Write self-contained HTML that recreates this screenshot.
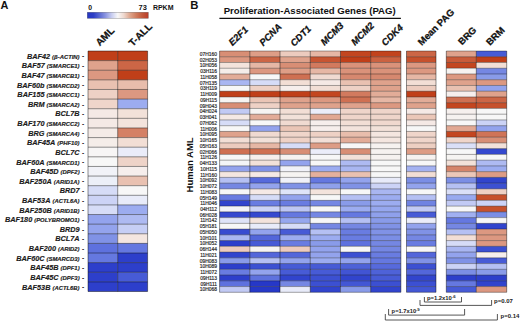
<!DOCTYPE html>
<html><head><meta charset="utf-8"><style>
html,body{margin:0;padding:0;background:#fff;}
body{width:520px;height:321px;overflow:hidden;}
svg{display:block;}
text{font-family:"Liberation Sans",sans-serif;}
</style></head><body>
<svg width="520" height="321" viewBox="0 0 520 321">
<rect x="0" y="0" width="520" height="321" fill="#fff"/>
<defs><linearGradient id="cb" x1="0" x2="1" y1="0" y2="0"><stop offset="0" stop-color="#2638c3"/><stop offset="0.1" stop-color="#2d3ec6"/><stop offset="0.2" stop-color="#5a69d2"/><stop offset="0.3" stop-color="#8c96e1"/><stop offset="0.4" stop-color="#c8cdf0"/><stop offset="0.5" stop-color="#f8f8f8"/><stop offset="0.6" stop-color="#eed7cd"/><stop offset="0.7" stop-color="#dea58c"/><stop offset="0.8" stop-color="#d07d5f"/><stop offset="0.9" stop-color="#c35a3c"/><stop offset="1" stop-color="#b93c28"/></linearGradient></defs>
<text x="0.55" y="8.75" font-size="10.9" font-weight="bold" fill="#111">A</text>
<rect x="87.3" y="12.3" width="61" height="6" fill="url(#cb)" stroke="rgba(0,0,0,0.35)" stroke-width="0.6"/>
<text x="88.3" y="9.7" font-size="6.8" font-weight="bold" fill="#111">0</text>
<text x="138.6" y="9.7" font-size="6.9" font-weight="bold" fill="#111" textLength="8.3" lengthAdjust="spacingAndGlyphs">73</text>
<text x="152.9" y="9.7" font-size="6.9" font-weight="bold" fill="#111" textLength="20.6" lengthAdjust="spacingAndGlyphs">RPKM</text>
<rect x="88.00" y="51.00" width="29.70" height="9.62" fill="#c03f19"/>
<rect x="117.70" y="51.00" width="29.90" height="9.62" fill="#c03f19"/>
<rect x="88.00" y="60.62" width="29.70" height="9.62" fill="#dfa28c"/>
<rect x="117.70" y="60.62" width="29.90" height="9.62" fill="#cc6646"/>
<rect x="88.00" y="70.24" width="29.70" height="9.62" fill="#dc9881"/>
<rect x="117.70" y="70.24" width="29.90" height="9.62" fill="#c03f19"/>
<rect x="88.00" y="79.86" width="29.70" height="9.62" fill="#e9c1b1"/>
<rect x="117.70" y="79.86" width="29.90" height="9.62" fill="#e8bdac"/>
<rect x="88.00" y="89.48" width="29.70" height="9.62" fill="#eed1c5"/>
<rect x="117.70" y="89.48" width="29.90" height="9.62" fill="#dc9881"/>
<rect x="88.00" y="99.10" width="29.70" height="9.62" fill="#efd5ca"/>
<rect x="117.70" y="99.10" width="29.90" height="9.62" fill="#9cacf0"/>
<rect x="88.00" y="108.72" width="29.70" height="9.62" fill="#f5e9e5"/>
<rect x="117.70" y="108.72" width="29.90" height="9.62" fill="#f2e1d9"/>
<rect x="88.00" y="118.34" width="29.70" height="9.62" fill="#f5e9e5"/>
<rect x="117.70" y="118.34" width="29.90" height="9.62" fill="#f3e3dc"/>
<rect x="88.00" y="127.96" width="29.70" height="9.62" fill="#f5ebe7"/>
<rect x="117.70" y="127.96" width="29.90" height="9.62" fill="#d48065"/>
<rect x="88.00" y="137.58" width="29.70" height="9.62" fill="#f5ede9"/>
<rect x="117.70" y="137.58" width="29.90" height="9.62" fill="#f2ded5"/>
<rect x="88.00" y="147.20" width="29.70" height="9.62" fill="#f7f5f5"/>
<rect x="117.70" y="147.20" width="29.90" height="9.62" fill="#eaecf9"/>
<rect x="88.00" y="156.82" width="29.70" height="9.62" fill="#f7f7f7"/>
<rect x="117.70" y="156.82" width="29.90" height="9.62" fill="#eed3c8"/>
<rect x="88.00" y="166.44" width="29.70" height="9.62" fill="#f1f2f8"/>
<rect x="117.70" y="166.44" width="29.90" height="9.62" fill="#f6eeec"/>
<rect x="88.00" y="176.06" width="29.70" height="9.62" fill="#eceff8"/>
<rect x="117.70" y="176.06" width="29.90" height="9.62" fill="#e9c1b1"/>
<rect x="88.00" y="185.68" width="29.70" height="9.62" fill="#d6dcf7"/>
<rect x="117.70" y="185.68" width="29.90" height="9.62" fill="#f7f7f7"/>
<rect x="88.00" y="195.30" width="29.70" height="9.62" fill="#ccd3f6"/>
<rect x="117.70" y="195.30" width="29.90" height="9.62" fill="#e8ebf9"/>
<rect x="88.00" y="204.92" width="29.70" height="9.62" fill="#d6dcf7"/>
<rect x="117.70" y="204.92" width="29.90" height="9.62" fill="#9cacf0"/>
<rect x="88.00" y="214.54" width="29.70" height="9.62" fill="#93a3ed"/>
<rect x="117.70" y="214.54" width="29.90" height="9.62" fill="#aebaf2"/>
<rect x="88.00" y="224.16" width="29.70" height="9.62" fill="#93a3ed"/>
<rect x="117.70" y="224.16" width="29.90" height="9.62" fill="#c6cef5"/>
<rect x="88.00" y="233.78" width="29.70" height="9.62" fill="#8092e6"/>
<rect x="117.70" y="233.78" width="29.90" height="9.62" fill="#f4e6e0"/>
<rect x="88.00" y="243.40" width="29.70" height="9.62" fill="#5e71de"/>
<rect x="117.70" y="243.40" width="29.90" height="9.62" fill="#6578e0"/>
<rect x="88.00" y="253.02" width="29.70" height="9.62" fill="#6578e0"/>
<rect x="117.70" y="253.02" width="29.90" height="9.62" fill="#2d3fcb"/>
<rect x="88.00" y="262.64" width="29.70" height="9.62" fill="#2d3fcb"/>
<rect x="117.70" y="262.64" width="29.90" height="9.62" fill="#2d3fcb"/>
<rect x="88.00" y="272.26" width="29.70" height="9.62" fill="#2d3fcb"/>
<rect x="117.70" y="272.26" width="29.90" height="9.62" fill="#475bd6"/>
<rect x="88.00" y="281.88" width="29.70" height="9.62" fill="#2d3fcb"/>
<rect x="117.70" y="281.88" width="29.90" height="9.62" fill="#2d3fcb"/>
<line x1="88.00" x2="147.60" y1="51.00" y2="51.00" stroke="rgba(0,0,0,0.55)" stroke-width="0.80"/>
<line x1="88.00" x2="147.60" y1="60.62" y2="60.62" stroke="rgba(0,0,0,0.55)" stroke-width="0.80"/>
<line x1="88.00" x2="147.60" y1="70.24" y2="70.24" stroke="rgba(0,0,0,0.55)" stroke-width="0.80"/>
<line x1="88.00" x2="147.60" y1="79.86" y2="79.86" stroke="rgba(0,0,0,0.55)" stroke-width="0.80"/>
<line x1="88.00" x2="147.60" y1="89.48" y2="89.48" stroke="rgba(0,0,0,0.55)" stroke-width="0.80"/>
<line x1="88.00" x2="147.60" y1="99.10" y2="99.10" stroke="rgba(0,0,0,0.55)" stroke-width="0.80"/>
<line x1="88.00" x2="147.60" y1="108.72" y2="108.72" stroke="rgba(0,0,0,0.55)" stroke-width="0.80"/>
<line x1="88.00" x2="147.60" y1="118.34" y2="118.34" stroke="rgba(0,0,0,0.55)" stroke-width="0.80"/>
<line x1="88.00" x2="147.60" y1="127.96" y2="127.96" stroke="rgba(0,0,0,0.55)" stroke-width="0.80"/>
<line x1="88.00" x2="147.60" y1="137.58" y2="137.58" stroke="rgba(0,0,0,0.55)" stroke-width="0.80"/>
<line x1="88.00" x2="147.60" y1="147.20" y2="147.20" stroke="rgba(0,0,0,0.55)" stroke-width="0.80"/>
<line x1="88.00" x2="147.60" y1="156.82" y2="156.82" stroke="rgba(0,0,0,0.55)" stroke-width="0.80"/>
<line x1="88.00" x2="147.60" y1="166.44" y2="166.44" stroke="rgba(0,0,0,0.55)" stroke-width="0.80"/>
<line x1="88.00" x2="147.60" y1="176.06" y2="176.06" stroke="rgba(0,0,0,0.55)" stroke-width="0.80"/>
<line x1="88.00" x2="147.60" y1="185.68" y2="185.68" stroke="rgba(0,0,0,0.55)" stroke-width="0.80"/>
<line x1="88.00" x2="147.60" y1="195.30" y2="195.30" stroke="rgba(0,0,0,0.55)" stroke-width="0.80"/>
<line x1="88.00" x2="147.60" y1="204.92" y2="204.92" stroke="rgba(0,0,0,0.55)" stroke-width="0.80"/>
<line x1="88.00" x2="147.60" y1="214.54" y2="214.54" stroke="rgba(0,0,0,0.55)" stroke-width="0.80"/>
<line x1="88.00" x2="147.60" y1="224.16" y2="224.16" stroke="rgba(0,0,0,0.55)" stroke-width="0.80"/>
<line x1="88.00" x2="147.60" y1="233.78" y2="233.78" stroke="rgba(0,0,0,0.55)" stroke-width="0.80"/>
<line x1="88.00" x2="147.60" y1="243.40" y2="243.40" stroke="rgba(0,0,0,0.55)" stroke-width="0.80"/>
<line x1="88.00" x2="147.60" y1="253.02" y2="253.02" stroke="rgba(0,0,0,0.55)" stroke-width="0.80"/>
<line x1="88.00" x2="147.60" y1="262.64" y2="262.64" stroke="rgba(0,0,0,0.55)" stroke-width="0.80"/>
<line x1="88.00" x2="147.60" y1="272.26" y2="272.26" stroke="rgba(0,0,0,0.55)" stroke-width="0.80"/>
<line x1="88.00" x2="147.60" y1="281.88" y2="281.88" stroke="rgba(0,0,0,0.55)" stroke-width="0.80"/>
<line x1="88.00" x2="147.60" y1="291.50" y2="291.50" stroke="rgba(0,0,0,0.55)" stroke-width="0.80"/>
<line x1="88.00" x2="88.00" y1="51.00" y2="291.50" stroke="rgba(0,0,0,0.55)" stroke-width="0.80"/>
<line x1="117.70" x2="117.70" y1="51.00" y2="291.50" stroke="rgba(0,0,0,0.55)" stroke-width="0.80"/>
<line x1="147.60" x2="147.60" y1="51.00" y2="291.50" stroke="rgba(0,0,0,0.55)" stroke-width="0.80"/>
<text x="79.6" y="58.71" text-anchor="end" font-weight="bold" font-style="italic" fill="#1a1a1a" stroke="#1a1a1a" stroke-width="0.15"><tspan font-size="7.3">BAF42</tspan><tspan font-size="5.9" dx="2.0">(β-ACTIN)</tspan></text>
<text x="82.1" y="58.41" font-weight="bold" font-size="6.5" fill="#1a1a1a">-</text>
<text x="79.6" y="68.33" text-anchor="end" font-weight="bold" font-style="italic" fill="#1a1a1a" stroke="#1a1a1a" stroke-width="0.15"><tspan font-size="7.3">BAF57</tspan><tspan font-size="5.9" dx="2.0">(SMARCE1)</tspan></text>
<text x="82.1" y="68.03" font-weight="bold" font-size="6.5" fill="#1a1a1a">-</text>
<text x="79.6" y="77.95" text-anchor="end" font-weight="bold" font-style="italic" fill="#1a1a1a" stroke="#1a1a1a" stroke-width="0.15"><tspan font-size="7.3">BAF47</tspan><tspan font-size="5.9" dx="2.0">(SMARCB1)</tspan></text>
<text x="82.1" y="77.65" font-weight="bold" font-size="6.5" fill="#1a1a1a">-</text>
<text x="79.6" y="87.57" text-anchor="end" font-weight="bold" font-style="italic" fill="#1a1a1a" stroke="#1a1a1a" stroke-width="0.15"><tspan font-size="7.3">BAF60b</tspan><tspan font-size="5.9" dx="2.0">(SMARCD2)</tspan></text>
<text x="82.1" y="87.27" font-weight="bold" font-size="6.5" fill="#1a1a1a">-</text>
<text x="79.6" y="97.19" text-anchor="end" font-weight="bold" font-style="italic" fill="#1a1a1a" stroke="#1a1a1a" stroke-width="0.15"><tspan font-size="7.3">BAF155</tspan><tspan font-size="5.9" dx="2.0">(SMARCC1)</tspan></text>
<text x="82.1" y="96.89" font-weight="bold" font-size="6.5" fill="#1a1a1a">-</text>
<text x="79.6" y="106.81" text-anchor="end" font-weight="bold" font-style="italic" fill="#1a1a1a" stroke="#1a1a1a" stroke-width="0.15"><tspan font-size="7.3">BRM</tspan><tspan font-size="5.9" dx="2.0">(SMARCA2)</tspan></text>
<text x="82.1" y="106.51" font-weight="bold" font-size="6.5" fill="#1a1a1a">-</text>
<text x="79.6" y="116.43" text-anchor="end" font-weight="bold" font-style="italic" font-size="7.3" fill="#1a1a1a" stroke="#1a1a1a" stroke-width="0.15">BCL7B</text>
<text x="82.1" y="116.13" font-weight="bold" font-size="6.5" fill="#1a1a1a">-</text>
<text x="79.6" y="126.05" text-anchor="end" font-weight="bold" font-style="italic" fill="#1a1a1a" stroke="#1a1a1a" stroke-width="0.15"><tspan font-size="7.3">BAF170</tspan><tspan font-size="5.9" dx="2.0">(SMARCC2)</tspan></text>
<text x="82.1" y="125.75" font-weight="bold" font-size="6.5" fill="#1a1a1a">-</text>
<text x="79.6" y="135.67" text-anchor="end" font-weight="bold" font-style="italic" fill="#1a1a1a" stroke="#1a1a1a" stroke-width="0.15"><tspan font-size="7.3">BRG</tspan><tspan font-size="5.9" dx="2.0">(SMARCA4)</tspan></text>
<text x="82.1" y="135.37" font-weight="bold" font-size="6.5" fill="#1a1a1a">-</text>
<text x="79.6" y="145.29" text-anchor="end" font-weight="bold" font-style="italic" fill="#1a1a1a" stroke="#1a1a1a" stroke-width="0.15"><tspan font-size="7.3">BAF45A</tspan><tspan font-size="5.9" dx="2.0">(PHF10)</tspan></text>
<text x="82.1" y="144.99" font-weight="bold" font-size="6.5" fill="#1a1a1a">-</text>
<text x="79.6" y="154.91" text-anchor="end" font-weight="bold" font-style="italic" font-size="7.3" fill="#1a1a1a" stroke="#1a1a1a" stroke-width="0.15">BCL7C</text>
<text x="82.1" y="154.61" font-weight="bold" font-size="6.5" fill="#1a1a1a">-</text>
<text x="79.6" y="164.53" text-anchor="end" font-weight="bold" font-style="italic" fill="#1a1a1a" stroke="#1a1a1a" stroke-width="0.15"><tspan font-size="7.3">BAF60A</tspan><tspan font-size="5.9" dx="2.0">(SMARCD1)</tspan></text>
<text x="82.1" y="164.23" font-weight="bold" font-size="6.5" fill="#1a1a1a">-</text>
<text x="79.6" y="174.15" text-anchor="end" font-weight="bold" font-style="italic" fill="#1a1a1a" stroke="#1a1a1a" stroke-width="0.15"><tspan font-size="7.3">BAF45D</tspan><tspan font-size="5.9" dx="2.0">(DPF2)</tspan></text>
<text x="82.1" y="173.85" font-weight="bold" font-size="6.5" fill="#1a1a1a">-</text>
<text x="79.6" y="183.77" text-anchor="end" font-weight="bold" font-style="italic" fill="#1a1a1a" stroke="#1a1a1a" stroke-width="0.15"><tspan font-size="7.3">BAF250A</tspan><tspan font-size="5.9" dx="2.0">(ARID1A)</tspan></text>
<text x="82.1" y="183.47" font-weight="bold" font-size="6.5" fill="#1a1a1a">-</text>
<text x="79.6" y="193.39" text-anchor="end" font-weight="bold" font-style="italic" font-size="7.3" fill="#1a1a1a" stroke="#1a1a1a" stroke-width="0.15">BRD7</text>
<text x="82.1" y="193.09" font-weight="bold" font-size="6.5" fill="#1a1a1a">-</text>
<text x="79.6" y="203.01" text-anchor="end" font-weight="bold" font-style="italic" fill="#1a1a1a" stroke="#1a1a1a" stroke-width="0.15"><tspan font-size="7.3">BAF53A</tspan><tspan font-size="5.9" dx="2.0">(ACTL6A)</tspan></text>
<text x="82.1" y="202.71" font-weight="bold" font-size="6.5" fill="#1a1a1a">-</text>
<text x="79.6" y="212.63" text-anchor="end" font-weight="bold" font-style="italic" fill="#1a1a1a" stroke="#1a1a1a" stroke-width="0.15"><tspan font-size="7.3">BAF250B</tspan><tspan font-size="5.9" dx="2.0">(ARID1B)</tspan></text>
<text x="82.1" y="212.33" font-weight="bold" font-size="6.5" fill="#1a1a1a">-</text>
<text x="79.6" y="222.25" text-anchor="end" font-weight="bold" font-style="italic" fill="#1a1a1a" stroke="#1a1a1a" stroke-width="0.15"><tspan font-size="7.3">BAF180</tspan><tspan font-size="5.9" dx="2.0">(POLYBROMO1)</tspan></text>
<text x="82.1" y="221.95" font-weight="bold" font-size="6.5" fill="#1a1a1a">-</text>
<text x="79.6" y="231.87" text-anchor="end" font-weight="bold" font-style="italic" font-size="7.3" fill="#1a1a1a" stroke="#1a1a1a" stroke-width="0.15">BRD9</text>
<text x="82.1" y="231.57" font-weight="bold" font-size="6.5" fill="#1a1a1a">-</text>
<text x="79.6" y="241.49" text-anchor="end" font-weight="bold" font-style="italic" font-size="7.3" fill="#1a1a1a" stroke="#1a1a1a" stroke-width="0.15">BCL7A</text>
<text x="82.1" y="241.19" font-weight="bold" font-size="6.5" fill="#1a1a1a">-</text>
<text x="79.6" y="251.11" text-anchor="end" font-weight="bold" font-style="italic" fill="#1a1a1a" stroke="#1a1a1a" stroke-width="0.15"><tspan font-size="7.3">BAF200</tspan><tspan font-size="5.9" dx="2.0">(ARID2)</tspan></text>
<text x="82.1" y="250.81" font-weight="bold" font-size="6.5" fill="#1a1a1a">-</text>
<text x="79.6" y="260.73" text-anchor="end" font-weight="bold" font-style="italic" fill="#1a1a1a" stroke="#1a1a1a" stroke-width="0.15"><tspan font-size="7.3">BAF60C</tspan><tspan font-size="5.9" dx="2.0">(SMARCD3)</tspan></text>
<text x="82.1" y="260.43" font-weight="bold" font-size="6.5" fill="#1a1a1a">-</text>
<text x="79.6" y="270.35" text-anchor="end" font-weight="bold" font-style="italic" fill="#1a1a1a" stroke="#1a1a1a" stroke-width="0.15"><tspan font-size="7.3">BAF45B</tspan><tspan font-size="5.9" dx="2.0">(DPF1)</tspan></text>
<text x="82.1" y="270.05" font-weight="bold" font-size="6.5" fill="#1a1a1a">-</text>
<text x="79.6" y="279.97" text-anchor="end" font-weight="bold" font-style="italic" fill="#1a1a1a" stroke="#1a1a1a" stroke-width="0.15"><tspan font-size="7.3">BAF45C</tspan><tspan font-size="5.9" dx="2.0">(DPF3)</tspan></text>
<text x="82.1" y="279.67" font-weight="bold" font-size="6.5" fill="#1a1a1a">-</text>
<text x="79.6" y="289.59" text-anchor="end" font-weight="bold" font-style="italic" fill="#1a1a1a" stroke="#1a1a1a" stroke-width="0.15"><tspan font-size="7.3">BAF53B</tspan><tspan font-size="5.9" dx="2.0">(ACTL6B)</tspan></text>
<text x="82.1" y="289.29" font-weight="bold" font-size="6.5" fill="#1a1a1a">-</text>
<text x="99.75" y="46.55" font-size="10" font-weight="bold" fill="#111" stroke="#111" stroke-width="0.25" transform="rotate(-45 99.75 46.55)">AML</text>
<text x="132.70" y="47.10" font-size="10" font-weight="bold" fill="#111" stroke="#111" stroke-width="0.25" transform="rotate(-45 132.70 47.10)">T-ALL</text>
<text x="190.2" y="8.85" font-size="10.9" font-weight="bold" fill="#111" textLength="8.2" lengthAdjust="spacingAndGlyphs">B</text>
<text x="309.7" y="13.6" font-size="9.6" font-weight="bold" fill="#111" text-anchor="middle">Proliferation-Associated Genes (PAG)</text>
<line x1="219.4" x2="400.9" y1="18.4" y2="18.4" stroke="#111" stroke-width="1.25"/>
<text x="232.60" y="46.35" font-size="9.5" font-weight="bold" font-style="italic" fill="#111" stroke="#111" stroke-width="0.25" transform="rotate(-45 232.60 46.35)">E2F1</text>
<text x="263.25" y="46.40" font-size="9.5" font-weight="bold" font-style="italic" fill="#111" stroke="#111" stroke-width="0.25" transform="rotate(-45 263.25 46.40)">PCNA</text>
<text x="294.20" y="47.00" font-size="9.5" font-weight="bold" font-style="italic" fill="#111" stroke="#111" stroke-width="0.25" transform="rotate(-45 294.20 47.00)">CDT1</text>
<text x="324.45" y="45.95" font-size="9.5" font-weight="bold" font-style="italic" fill="#111" stroke="#111" stroke-width="0.25" transform="rotate(-45 324.45 45.95)">MCM3</text>
<text x="355.00" y="45.95" font-size="9.5" font-weight="bold" font-style="italic" fill="#111" stroke="#111" stroke-width="0.25" transform="rotate(-45 355.00 45.95)">MCM2</text>
<text x="385.35" y="46.45" font-size="9.5" font-weight="bold" font-style="italic" fill="#111" stroke="#111" stroke-width="0.25" transform="rotate(-45 385.35 46.45)">CDK4</text>
<text x="421.80" y="45.95" font-size="9.5" font-weight="bold" fill="#111" stroke="#111" stroke-width="0.25" transform="rotate(-45 421.80 45.95)">Mean PAG</text>
<text x="462.10" y="45.60" font-size="9.5" font-weight="bold" fill="#111" stroke="#111" stroke-width="0.25" transform="rotate(-45 462.10 45.60)">BRG</text>
<text x="490.00" y="46.10" font-size="9.5" font-weight="bold" fill="#111" stroke="#111" stroke-width="0.25" transform="rotate(-45 490.00 46.10)">BRM</text>
<rect x="219.60" y="51.00" width="30.22" height="5.75" fill="#d88e75"/>
<rect x="249.82" y="51.00" width="30.22" height="5.75" fill="#de9e87"/>
<rect x="280.03" y="51.00" width="30.22" height="5.75" fill="#eccbbe"/>
<rect x="310.25" y="51.00" width="30.22" height="5.75" fill="#e6b7a5"/>
<rect x="340.47" y="51.00" width="30.22" height="5.75" fill="#c34620"/>
<rect x="370.68" y="51.00" width="30.22" height="5.75" fill="#c2431d"/>
<rect x="406.50" y="51.00" width="29.50" height="5.75" fill="#cc6646"/>
<rect x="446.30" y="51.00" width="30.00" height="5.75" fill="#dfa28c"/>
<rect x="476.30" y="51.00" width="30.40" height="5.75" fill="#475bd6"/>
<rect x="219.60" y="56.75" width="30.22" height="5.75" fill="#dc9881"/>
<rect x="249.82" y="56.75" width="30.22" height="5.75" fill="#cc6646"/>
<rect x="280.03" y="56.75" width="30.22" height="5.75" fill="#dfa28c"/>
<rect x="310.25" y="56.75" width="30.22" height="5.75" fill="#c75532"/>
<rect x="340.47" y="56.75" width="30.22" height="5.75" fill="#c03f19"/>
<rect x="370.68" y="56.75" width="30.22" height="5.75" fill="#cb6241"/>
<rect x="406.50" y="56.75" width="29.50" height="5.75" fill="#c6512d"/>
<rect x="446.30" y="56.75" width="30.00" height="5.75" fill="#c95b39"/>
<rect x="476.30" y="56.75" width="30.40" height="5.75" fill="#c03f19"/>
<rect x="219.60" y="62.49" width="30.22" height="5.75" fill="#f3e3dc"/>
<rect x="249.82" y="62.49" width="30.22" height="5.75" fill="#e6b7a5"/>
<rect x="280.03" y="62.49" width="30.22" height="5.75" fill="#d88e75"/>
<rect x="310.25" y="62.49" width="30.22" height="5.75" fill="#d27a5e"/>
<rect x="340.47" y="62.49" width="30.22" height="5.75" fill="#da927a"/>
<rect x="370.68" y="62.49" width="30.22" height="5.75" fill="#da927a"/>
<rect x="406.50" y="62.49" width="29.50" height="5.75" fill="#dc9881"/>
<rect x="446.30" y="62.49" width="30.00" height="5.75" fill="#c34620"/>
<rect x="476.30" y="62.49" width="30.40" height="5.75" fill="#f2ded5"/>
<rect x="219.60" y="68.24" width="30.22" height="5.75" fill="#f5ede9"/>
<rect x="249.82" y="68.24" width="30.22" height="5.75" fill="#dc9881"/>
<rect x="280.03" y="68.24" width="30.22" height="5.75" fill="#de9e87"/>
<rect x="310.25" y="68.24" width="30.22" height="5.75" fill="#e6b7a5"/>
<rect x="340.47" y="68.24" width="30.22" height="5.75" fill="#da927a"/>
<rect x="370.68" y="68.24" width="30.22" height="5.75" fill="#da927a"/>
<rect x="406.50" y="68.24" width="29.50" height="5.75" fill="#dc9881"/>
<rect x="446.30" y="68.24" width="30.00" height="5.75" fill="#f6f2f0"/>
<rect x="476.30" y="68.24" width="30.40" height="5.75" fill="#7587e3"/>
<rect x="219.60" y="73.98" width="30.22" height="5.75" fill="#e2ac98"/>
<rect x="249.82" y="73.98" width="30.22" height="5.75" fill="#f7f7f7"/>
<rect x="280.03" y="73.98" width="30.22" height="5.75" fill="#cf7052"/>
<rect x="310.25" y="73.98" width="30.22" height="5.75" fill="#f0dad1"/>
<rect x="340.47" y="73.98" width="30.22" height="5.75" fill="#d6886f"/>
<rect x="370.68" y="73.98" width="30.22" height="5.75" fill="#d6886f"/>
<rect x="406.50" y="73.98" width="29.50" height="5.75" fill="#e6b7a5"/>
<rect x="446.30" y="73.98" width="30.00" height="5.75" fill="#dc9881"/>
<rect x="476.30" y="73.98" width="30.40" height="5.75" fill="#899be9"/>
<rect x="219.60" y="79.73" width="30.22" height="5.75" fill="#a9b6f1"/>
<rect x="249.82" y="79.73" width="30.22" height="5.75" fill="#d6dcf7"/>
<rect x="280.03" y="79.73" width="30.22" height="5.75" fill="#f2ded5"/>
<rect x="310.25" y="79.73" width="30.22" height="5.75" fill="#f5e9e5"/>
<rect x="340.47" y="79.73" width="30.22" height="5.75" fill="#e9c1b1"/>
<rect x="370.68" y="79.73" width="30.22" height="5.75" fill="#dfa28c"/>
<rect x="406.50" y="79.73" width="29.50" height="5.75" fill="#f2ded5"/>
<rect x="446.30" y="79.73" width="30.00" height="5.75" fill="#dfa28c"/>
<rect x="476.30" y="79.73" width="30.40" height="5.75" fill="#dc9881"/>
<rect x="219.60" y="85.47" width="30.22" height="5.75" fill="#f7f7f7"/>
<rect x="249.82" y="85.47" width="30.22" height="5.75" fill="#eed1c5"/>
<rect x="280.03" y="85.47" width="30.22" height="5.75" fill="#f6eeec"/>
<rect x="310.25" y="85.47" width="30.22" height="5.75" fill="#f2ded5"/>
<rect x="340.47" y="85.47" width="30.22" height="5.75" fill="#eed1c5"/>
<rect x="370.68" y="85.47" width="30.22" height="5.75" fill="#dfa28c"/>
<rect x="406.50" y="85.47" width="29.50" height="5.75" fill="#eccbbe"/>
<rect x="446.30" y="85.47" width="30.00" height="5.75" fill="#e9c1b1"/>
<rect x="476.30" y="85.47" width="30.40" height="5.75" fill="#93a3ed"/>
<rect x="219.60" y="91.22" width="30.22" height="5.75" fill="#c03f19"/>
<rect x="249.82" y="91.22" width="30.22" height="5.75" fill="#c03f19"/>
<rect x="280.03" y="91.22" width="30.22" height="5.75" fill="#c03f19"/>
<rect x="310.25" y="91.22" width="30.22" height="5.75" fill="#c34620"/>
<rect x="340.47" y="91.22" width="30.22" height="5.75" fill="#d27a5e"/>
<rect x="370.68" y="91.22" width="30.22" height="5.75" fill="#e2ac98"/>
<rect x="406.50" y="91.22" width="29.50" height="5.75" fill="#c03f19"/>
<rect x="446.30" y="91.22" width="30.00" height="5.75" fill="#f6eeec"/>
<rect x="476.30" y="91.22" width="30.40" height="5.75" fill="#dfa28c"/>
<rect x="219.60" y="96.96" width="30.22" height="5.75" fill="#f6f4f2"/>
<rect x="249.82" y="96.96" width="30.22" height="5.75" fill="#eac5b6"/>
<rect x="280.03" y="96.96" width="30.22" height="5.75" fill="#dfa28c"/>
<rect x="310.25" y="96.96" width="30.22" height="5.75" fill="#dc9881"/>
<rect x="340.47" y="96.96" width="30.22" height="5.75" fill="#cf7052"/>
<rect x="370.68" y="96.96" width="30.22" height="5.75" fill="#e6b7a5"/>
<rect x="406.50" y="96.96" width="29.50" height="5.75" fill="#e2ac98"/>
<rect x="446.30" y="96.96" width="30.00" height="5.75" fill="#cf7052"/>
<rect x="476.30" y="96.96" width="30.40" height="5.75" fill="#cc6646"/>
<rect x="219.60" y="102.71" width="30.22" height="5.75" fill="#d88e75"/>
<rect x="249.82" y="102.71" width="30.22" height="5.75" fill="#eed1c5"/>
<rect x="280.03" y="102.71" width="30.22" height="5.75" fill="#dfa28c"/>
<rect x="310.25" y="102.71" width="30.22" height="5.75" fill="#dfa28c"/>
<rect x="340.47" y="102.71" width="30.22" height="5.75" fill="#dfa28c"/>
<rect x="370.68" y="102.71" width="30.22" height="5.75" fill="#dc9881"/>
<rect x="406.50" y="102.71" width="29.50" height="5.75" fill="#dfa28c"/>
<rect x="446.30" y="102.71" width="30.00" height="5.75" fill="#c34620"/>
<rect x="476.30" y="102.71" width="30.40" height="5.75" fill="#c6512d"/>
<rect x="219.60" y="108.45" width="30.22" height="5.75" fill="#c2caf4"/>
<rect x="249.82" y="108.45" width="30.22" height="5.75" fill="#f6f4f2"/>
<rect x="280.03" y="108.45" width="30.22" height="5.75" fill="#f2ded5"/>
<rect x="310.25" y="108.45" width="30.22" height="5.75" fill="#ebedf9"/>
<rect x="340.47" y="108.45" width="30.22" height="5.75" fill="#efd5ca"/>
<rect x="370.68" y="108.45" width="30.22" height="5.75" fill="#efd5ca"/>
<rect x="406.50" y="108.45" width="29.50" height="5.75" fill="#f5e9e5"/>
<rect x="446.30" y="108.45" width="30.00" height="5.75" fill="#f6f0ee"/>
<rect x="476.30" y="108.45" width="30.40" height="5.75" fill="#f7f7f7"/>
<rect x="219.60" y="114.20" width="30.22" height="5.75" fill="#f5e9e5"/>
<rect x="249.82" y="114.20" width="30.22" height="5.75" fill="#e2ac98"/>
<rect x="280.03" y="114.20" width="30.22" height="5.75" fill="#f2e1d9"/>
<rect x="310.25" y="114.20" width="30.22" height="5.75" fill="#e1a893"/>
<rect x="340.47" y="114.20" width="30.22" height="5.75" fill="#efd5ca"/>
<rect x="370.68" y="114.20" width="30.22" height="5.75" fill="#efd5ca"/>
<rect x="406.50" y="114.20" width="29.50" height="5.75" fill="#ebc7b8"/>
<rect x="446.30" y="114.20" width="30.00" height="5.75" fill="#f6f2f0"/>
<rect x="476.30" y="114.20" width="30.40" height="5.75" fill="#f7f7f7"/>
<rect x="219.60" y="119.94" width="30.22" height="5.75" fill="#d6dcf7"/>
<rect x="249.82" y="119.94" width="30.22" height="5.75" fill="#f7f7f7"/>
<rect x="280.03" y="119.94" width="30.22" height="5.75" fill="#f0dad1"/>
<rect x="310.25" y="119.94" width="30.22" height="5.75" fill="#f6eeec"/>
<rect x="340.47" y="119.94" width="30.22" height="5.75" fill="#f2ded5"/>
<rect x="370.68" y="119.94" width="30.22" height="5.75" fill="#f0d8ce"/>
<rect x="406.50" y="119.94" width="29.50" height="5.75" fill="#f5e9e5"/>
<rect x="446.30" y="119.94" width="30.00" height="5.75" fill="#f7f7f7"/>
<rect x="476.30" y="119.94" width="30.40" height="5.75" fill="#ccd3f6"/>
<rect x="219.60" y="125.69" width="30.22" height="5.75" fill="#f7f7f7"/>
<rect x="249.82" y="125.69" width="30.22" height="5.75" fill="#93a3ed"/>
<rect x="280.03" y="125.69" width="30.22" height="5.75" fill="#eac5b6"/>
<rect x="310.25" y="125.69" width="30.22" height="5.75" fill="#f6eeec"/>
<rect x="340.47" y="125.69" width="30.22" height="5.75" fill="#f3e3dc"/>
<rect x="370.68" y="125.69" width="30.22" height="5.75" fill="#f2e1d9"/>
<rect x="406.50" y="125.69" width="29.50" height="5.75" fill="#f7f7f7"/>
<rect x="446.30" y="125.69" width="30.00" height="5.75" fill="#e1a893"/>
<rect x="476.30" y="125.69" width="30.40" height="5.75" fill="#93a3ed"/>
<rect x="219.60" y="131.43" width="30.22" height="5.75" fill="#dfa28c"/>
<rect x="249.82" y="131.43" width="30.22" height="5.75" fill="#f0dad1"/>
<rect x="280.03" y="131.43" width="30.22" height="5.75" fill="#efd5ca"/>
<rect x="310.25" y="131.43" width="30.22" height="5.75" fill="#eed1c5"/>
<rect x="340.47" y="131.43" width="30.22" height="5.75" fill="#e8bdac"/>
<rect x="370.68" y="131.43" width="30.22" height="5.75" fill="#f4e6e0"/>
<rect x="406.50" y="131.43" width="29.50" height="5.75" fill="#efd5ca"/>
<rect x="446.30" y="131.43" width="30.00" height="5.75" fill="#c34620"/>
<rect x="476.30" y="131.43" width="30.40" height="5.75" fill="#d07457"/>
<rect x="219.60" y="137.18" width="30.22" height="5.75" fill="#f2ded5"/>
<rect x="249.82" y="137.18" width="30.22" height="5.75" fill="#f2e1d9"/>
<rect x="280.03" y="137.18" width="30.22" height="5.75" fill="#eed1c5"/>
<rect x="310.25" y="137.18" width="30.22" height="5.75" fill="#f2dfd7"/>
<rect x="340.47" y="137.18" width="30.22" height="5.75" fill="#e2ac98"/>
<rect x="370.68" y="137.18" width="30.22" height="5.75" fill="#f4e6e0"/>
<rect x="406.50" y="137.18" width="29.50" height="5.75" fill="#efd5ca"/>
<rect x="446.30" y="137.18" width="30.00" height="5.75" fill="#efd5ca"/>
<rect x="476.30" y="137.18" width="30.40" height="5.75" fill="#d88e75"/>
<rect x="219.60" y="142.92" width="30.22" height="5.75" fill="#eccbbe"/>
<rect x="249.82" y="142.92" width="30.22" height="5.75" fill="#e6b7a5"/>
<rect x="280.03" y="142.92" width="30.22" height="5.75" fill="#d6dcf7"/>
<rect x="310.25" y="142.92" width="30.22" height="5.75" fill="#dd9c85"/>
<rect x="340.47" y="142.92" width="30.22" height="5.75" fill="#f7f7f7"/>
<rect x="370.68" y="142.92" width="30.22" height="5.75" fill="#f6f2f0"/>
<rect x="406.50" y="142.92" width="29.50" height="5.75" fill="#edcfc2"/>
<rect x="446.30" y="142.92" width="30.00" height="5.75" fill="#dadff7"/>
<rect x="476.30" y="142.92" width="30.40" height="5.75" fill="#f2e1d9"/>
<rect x="219.60" y="148.67" width="30.22" height="5.75" fill="#cf7052"/>
<rect x="249.82" y="148.67" width="30.22" height="5.75" fill="#cf7052"/>
<rect x="280.03" y="148.67" width="30.22" height="5.75" fill="#d88e75"/>
<rect x="310.25" y="148.67" width="30.22" height="5.75" fill="#ebedf9"/>
<rect x="340.47" y="148.67" width="30.22" height="5.75" fill="#d88e75"/>
<rect x="370.68" y="148.67" width="30.22" height="5.75" fill="#f6f2f0"/>
<rect x="406.50" y="148.67" width="29.50" height="5.75" fill="#dd9c85"/>
<rect x="446.30" y="148.67" width="30.00" height="5.75" fill="#f7f7f7"/>
<rect x="476.30" y="148.67" width="30.40" height="5.75" fill="#3549cf"/>
<rect x="219.60" y="154.41" width="30.22" height="5.75" fill="#f7f7f7"/>
<rect x="249.82" y="154.41" width="30.22" height="5.75" fill="#f6eeec"/>
<rect x="280.03" y="154.41" width="30.22" height="5.75" fill="#f6f2f0"/>
<rect x="310.25" y="154.41" width="30.22" height="5.75" fill="#f7f7f7"/>
<rect x="340.47" y="154.41" width="30.22" height="5.75" fill="#f2e1d9"/>
<rect x="370.68" y="154.41" width="30.22" height="5.75" fill="#f6f2f0"/>
<rect x="406.50" y="154.41" width="29.50" height="5.75" fill="#f6f2f0"/>
<rect x="446.30" y="154.41" width="30.00" height="5.75" fill="#f6f4f2"/>
<rect x="476.30" y="154.41" width="30.40" height="5.75" fill="#f7f7f7"/>
<rect x="219.60" y="160.16" width="30.22" height="5.75" fill="#f4f5f7"/>
<rect x="249.82" y="160.16" width="30.22" height="5.75" fill="#f2e1d9"/>
<rect x="280.03" y="160.16" width="30.22" height="5.75" fill="#93a3ed"/>
<rect x="310.25" y="160.16" width="30.22" height="5.75" fill="#f7f7f7"/>
<rect x="340.47" y="160.16" width="30.22" height="5.75" fill="#aebaf2"/>
<rect x="370.68" y="160.16" width="30.22" height="5.75" fill="#f7f7f7"/>
<rect x="406.50" y="160.16" width="29.50" height="5.75" fill="#f7f7f7"/>
<rect x="446.30" y="160.16" width="30.00" height="5.75" fill="#f2e1d9"/>
<rect x="476.30" y="160.16" width="30.40" height="5.75" fill="#aebaf2"/>
<rect x="219.60" y="165.90" width="30.22" height="5.75" fill="#93a3ed"/>
<rect x="249.82" y="165.90" width="30.22" height="5.75" fill="#8092e6"/>
<rect x="280.03" y="165.90" width="30.22" height="5.75" fill="#f0f1f8"/>
<rect x="310.25" y="165.90" width="30.22" height="5.75" fill="#9cacf0"/>
<rect x="340.47" y="165.90" width="30.22" height="5.75" fill="#a9b6f1"/>
<rect x="370.68" y="165.90" width="30.22" height="5.75" fill="#f7f7f7"/>
<rect x="406.50" y="165.90" width="29.50" height="5.75" fill="#a4b2f1"/>
<rect x="446.30" y="165.90" width="30.00" height="5.75" fill="#d5846a"/>
<rect x="476.30" y="165.90" width="30.40" height="5.75" fill="#9cacf0"/>
<rect x="219.60" y="171.65" width="30.22" height="5.75" fill="#f4e6e0"/>
<rect x="249.82" y="171.65" width="30.22" height="5.75" fill="#f5e9e5"/>
<rect x="280.03" y="171.65" width="30.22" height="5.75" fill="#f6f4f2"/>
<rect x="310.25" y="171.65" width="30.22" height="5.75" fill="#e4b09d"/>
<rect x="340.47" y="171.65" width="30.22" height="5.75" fill="#e9c1b1"/>
<rect x="370.68" y="171.65" width="30.22" height="5.75" fill="#f7f7f7"/>
<rect x="406.50" y="171.65" width="29.50" height="5.75" fill="#f2ded5"/>
<rect x="446.30" y="171.65" width="30.00" height="5.75" fill="#ebc7b8"/>
<rect x="476.30" y="171.65" width="30.40" height="5.75" fill="#dd9c85"/>
<rect x="219.60" y="177.40" width="30.22" height="5.75" fill="#b5c0f3"/>
<rect x="249.82" y="177.40" width="30.22" height="5.75" fill="#576adc"/>
<rect x="280.03" y="177.40" width="30.22" height="5.75" fill="#f0f1f8"/>
<rect x="310.25" y="177.40" width="30.22" height="5.75" fill="#6578e0"/>
<rect x="340.47" y="177.40" width="30.22" height="5.75" fill="#93a3ed"/>
<rect x="370.68" y="177.40" width="30.22" height="5.75" fill="#e8ebf9"/>
<rect x="406.50" y="177.40" width="29.50" height="5.75" fill="#7b8ee5"/>
<rect x="446.30" y="177.40" width="30.00" height="5.75" fill="#7b8ee5"/>
<rect x="476.30" y="177.40" width="30.40" height="5.75" fill="#3144cd"/>
<rect x="219.60" y="183.14" width="30.22" height="5.75" fill="#7587e3"/>
<rect x="249.82" y="183.14" width="30.22" height="5.75" fill="#93a3ed"/>
<rect x="280.03" y="183.14" width="30.22" height="5.75" fill="#8092e6"/>
<rect x="310.25" y="183.14" width="30.22" height="5.75" fill="#8fa0eb"/>
<rect x="340.47" y="183.14" width="30.22" height="5.75" fill="#8092e6"/>
<rect x="370.68" y="183.14" width="30.22" height="5.75" fill="#ccd3f6"/>
<rect x="406.50" y="183.14" width="29.50" height="5.75" fill="#93a3ed"/>
<rect x="446.30" y="183.14" width="30.00" height="5.75" fill="#b5c0f3"/>
<rect x="476.30" y="183.14" width="30.40" height="5.75" fill="#3c50d2"/>
<rect x="219.60" y="188.89" width="30.22" height="5.75" fill="#f7f7f7"/>
<rect x="249.82" y="188.89" width="30.22" height="5.75" fill="#f5e9e5"/>
<rect x="280.03" y="188.89" width="30.22" height="5.75" fill="#dfe4f8"/>
<rect x="310.25" y="188.89" width="30.22" height="5.75" fill="#f3e3dc"/>
<rect x="340.47" y="188.89" width="30.22" height="5.75" fill="#f7f7f7"/>
<rect x="370.68" y="188.89" width="30.22" height="5.75" fill="#a9b6f1"/>
<rect x="406.50" y="188.89" width="29.50" height="5.75" fill="#f7f7f7"/>
<rect x="446.30" y="188.89" width="30.00" height="5.75" fill="#dadff7"/>
<rect x="476.30" y="188.89" width="30.40" height="5.75" fill="#eed1c5"/>
<rect x="219.60" y="194.63" width="30.22" height="5.75" fill="#697ce1"/>
<rect x="249.82" y="194.63" width="30.22" height="5.75" fill="#d6dcf7"/>
<rect x="280.03" y="194.63" width="30.22" height="5.75" fill="#93a3ed"/>
<rect x="310.25" y="194.63" width="30.22" height="5.75" fill="#f7f7f7"/>
<rect x="340.47" y="194.63" width="30.22" height="5.75" fill="#b5c0f3"/>
<rect x="370.68" y="194.63" width="30.22" height="5.75" fill="#9cacf0"/>
<rect x="406.50" y="194.63" width="29.50" height="5.75" fill="#b5c0f3"/>
<rect x="446.30" y="194.63" width="30.00" height="5.75" fill="#98a9ef"/>
<rect x="476.30" y="194.63" width="30.40" height="5.75" fill="#c6512d"/>
<rect x="219.60" y="200.38" width="30.22" height="5.75" fill="#3144cd"/>
<rect x="249.82" y="200.38" width="30.22" height="5.75" fill="#697ce1"/>
<rect x="280.03" y="200.38" width="30.22" height="5.75" fill="#697ce1"/>
<rect x="310.25" y="200.38" width="30.22" height="5.75" fill="#7587e3"/>
<rect x="340.47" y="200.38" width="30.22" height="5.75" fill="#899be9"/>
<rect x="370.68" y="200.38" width="30.22" height="5.75" fill="#9cacf0"/>
<rect x="406.50" y="200.38" width="29.50" height="5.75" fill="#7083e2"/>
<rect x="446.30" y="200.38" width="30.00" height="5.75" fill="#c2caf4"/>
<rect x="476.30" y="200.38" width="30.40" height="5.75" fill="#ccd3f6"/>
<rect x="219.60" y="206.12" width="30.22" height="5.75" fill="#f2f3f8"/>
<rect x="249.82" y="206.12" width="30.22" height="5.75" fill="#ccd3f6"/>
<rect x="280.03" y="206.12" width="30.22" height="5.75" fill="#bdc6f3"/>
<rect x="310.25" y="206.12" width="30.22" height="5.75" fill="#f7f7f7"/>
<rect x="340.47" y="206.12" width="30.22" height="5.75" fill="#9cacf0"/>
<rect x="370.68" y="206.12" width="30.22" height="5.75" fill="#96a7ee"/>
<rect x="406.50" y="206.12" width="29.50" height="5.75" fill="#c2caf4"/>
<rect x="446.30" y="206.12" width="30.00" height="5.75" fill="#f7f7f7"/>
<rect x="476.30" y="206.12" width="30.40" height="5.75" fill="#c6512d"/>
<rect x="219.60" y="211.87" width="30.22" height="5.75" fill="#3549cf"/>
<rect x="249.82" y="211.87" width="30.22" height="5.75" fill="#3549cf"/>
<rect x="280.03" y="211.87" width="30.22" height="5.75" fill="#6578e0"/>
<rect x="310.25" y="211.87" width="30.22" height="5.75" fill="#7587e3"/>
<rect x="340.47" y="211.87" width="30.22" height="5.75" fill="#6578e0"/>
<rect x="370.68" y="211.87" width="30.22" height="5.75" fill="#8fa0eb"/>
<rect x="406.50" y="211.87" width="29.50" height="5.75" fill="#475bd6"/>
<rect x="446.30" y="211.87" width="30.00" height="5.75" fill="#a1b0f1"/>
<rect x="476.30" y="211.87" width="30.40" height="5.75" fill="#7b8ee5"/>
<rect x="219.60" y="217.61" width="30.22" height="5.75" fill="#dfe4f8"/>
<rect x="249.82" y="217.61" width="30.22" height="5.75" fill="#f3e3dc"/>
<rect x="280.03" y="217.61" width="30.22" height="5.75" fill="#96a7ee"/>
<rect x="310.25" y="217.61" width="30.22" height="5.75" fill="#f7f7f7"/>
<rect x="340.47" y="217.61" width="30.22" height="5.75" fill="#b5c0f3"/>
<rect x="370.68" y="217.61" width="30.22" height="5.75" fill="#899be9"/>
<rect x="406.50" y="217.61" width="29.50" height="5.75" fill="#ebedf9"/>
<rect x="446.30" y="217.61" width="30.00" height="5.75" fill="#6578e0"/>
<rect x="476.30" y="217.61" width="30.40" height="5.75" fill="#f7f7f7"/>
<rect x="219.60" y="223.36" width="30.22" height="5.75" fill="#f7f7f7"/>
<rect x="249.82" y="223.36" width="30.22" height="5.75" fill="#e8ebf9"/>
<rect x="280.03" y="223.36" width="30.22" height="5.75" fill="#d6dcf7"/>
<rect x="310.25" y="223.36" width="30.22" height="5.75" fill="#7587e3"/>
<rect x="340.47" y="223.36" width="30.22" height="5.75" fill="#7587e3"/>
<rect x="370.68" y="223.36" width="30.22" height="5.75" fill="#8092e6"/>
<rect x="406.50" y="223.36" width="29.50" height="5.75" fill="#93a3ed"/>
<rect x="446.30" y="223.36" width="30.00" height="5.75" fill="#7587e3"/>
<rect x="476.30" y="223.36" width="30.40" height="5.75" fill="#3144cd"/>
<rect x="219.60" y="229.10" width="30.22" height="5.75" fill="#384bd0"/>
<rect x="249.82" y="229.10" width="30.22" height="5.75" fill="#93a3ed"/>
<rect x="280.03" y="229.10" width="30.22" height="5.75" fill="#475bd6"/>
<rect x="310.25" y="229.10" width="30.22" height="5.75" fill="#b5c0f3"/>
<rect x="340.47" y="229.10" width="30.22" height="5.75" fill="#697ce1"/>
<rect x="370.68" y="229.10" width="30.22" height="5.75" fill="#8092e6"/>
<rect x="406.50" y="229.10" width="29.50" height="5.75" fill="#8092e6"/>
<rect x="446.30" y="229.10" width="30.00" height="5.75" fill="#b5c0f3"/>
<rect x="476.30" y="229.10" width="30.40" height="5.75" fill="#dc9881"/>
<rect x="219.60" y="234.85" width="30.22" height="5.75" fill="#a9b6f1"/>
<rect x="249.82" y="234.85" width="30.22" height="5.75" fill="#5366da"/>
<rect x="280.03" y="234.85" width="30.22" height="5.75" fill="#9cacf0"/>
<rect x="310.25" y="234.85" width="30.22" height="5.75" fill="#9cacf0"/>
<rect x="340.47" y="234.85" width="30.22" height="5.75" fill="#697ce1"/>
<rect x="370.68" y="234.85" width="30.22" height="5.75" fill="#7b8ee5"/>
<rect x="406.50" y="234.85" width="29.50" height="5.75" fill="#7587e3"/>
<rect x="446.30" y="234.85" width="30.00" height="5.75" fill="#f2ded5"/>
<rect x="476.30" y="234.85" width="30.40" height="5.75" fill="#dc9881"/>
<rect x="219.60" y="240.59" width="30.22" height="5.75" fill="#2d3fcb"/>
<rect x="249.82" y="240.59" width="30.22" height="5.75" fill="#475bd6"/>
<rect x="280.03" y="240.59" width="30.22" height="5.75" fill="#697ce1"/>
<rect x="310.25" y="240.59" width="30.22" height="5.75" fill="#899be9"/>
<rect x="340.47" y="240.59" width="30.22" height="5.75" fill="#5e71de"/>
<rect x="370.68" y="240.59" width="30.22" height="5.75" fill="#7587e3"/>
<rect x="406.50" y="240.59" width="29.50" height="5.75" fill="#697ce1"/>
<rect x="446.30" y="240.59" width="30.00" height="5.75" fill="#d6dcf7"/>
<rect x="476.30" y="240.59" width="30.40" height="5.75" fill="#dc9881"/>
<rect x="219.60" y="246.34" width="30.22" height="5.75" fill="#eccbbe"/>
<rect x="249.82" y="246.34" width="30.22" height="5.75" fill="#f6f4f2"/>
<rect x="280.03" y="246.34" width="30.22" height="5.75" fill="#eccbbe"/>
<rect x="310.25" y="246.34" width="30.22" height="5.75" fill="#93a3ed"/>
<rect x="340.47" y="246.34" width="30.22" height="5.75" fill="#f7f7f7"/>
<rect x="370.68" y="246.34" width="30.22" height="5.75" fill="#7587e3"/>
<rect x="406.50" y="246.34" width="29.50" height="5.75" fill="#f7f7f7"/>
<rect x="446.30" y="246.34" width="30.00" height="5.75" fill="#a9b6f1"/>
<rect x="476.30" y="246.34" width="30.40" height="5.75" fill="#3c50d2"/>
<rect x="219.60" y="252.08" width="30.22" height="5.75" fill="#3144cd"/>
<rect x="249.82" y="252.08" width="30.22" height="5.75" fill="#5366da"/>
<rect x="280.03" y="252.08" width="30.22" height="5.75" fill="#5366da"/>
<rect x="310.25" y="252.08" width="30.22" height="5.75" fill="#93a3ed"/>
<rect x="340.47" y="252.08" width="30.22" height="5.75" fill="#3c50d2"/>
<rect x="370.68" y="252.08" width="30.22" height="5.75" fill="#697ce1"/>
<rect x="406.50" y="252.08" width="29.50" height="5.75" fill="#5366da"/>
<rect x="446.30" y="252.08" width="30.00" height="5.75" fill="#93a3ed"/>
<rect x="476.30" y="252.08" width="30.40" height="5.75" fill="#f6eeec"/>
<rect x="219.60" y="257.83" width="30.22" height="5.75" fill="#899be9"/>
<rect x="249.82" y="257.83" width="30.22" height="5.75" fill="#b5c0f3"/>
<rect x="280.03" y="257.83" width="30.22" height="5.75" fill="#93a3ed"/>
<rect x="310.25" y="257.83" width="30.22" height="5.75" fill="#9cacf0"/>
<rect x="340.47" y="257.83" width="30.22" height="5.75" fill="#93a3ed"/>
<rect x="370.68" y="257.83" width="30.22" height="5.75" fill="#6578e0"/>
<rect x="406.50" y="257.83" width="29.50" height="5.75" fill="#8092e6"/>
<rect x="446.30" y="257.83" width="30.00" height="5.75" fill="#8092e6"/>
<rect x="476.30" y="257.83" width="30.40" height="5.75" fill="#475bd6"/>
<rect x="219.60" y="263.57" width="30.22" height="5.75" fill="#2d3fcb"/>
<rect x="249.82" y="263.57" width="30.22" height="5.75" fill="#3c50d2"/>
<rect x="280.03" y="263.57" width="30.22" height="5.75" fill="#475bd6"/>
<rect x="310.25" y="263.57" width="30.22" height="5.75" fill="#475bd6"/>
<rect x="340.47" y="263.57" width="30.22" height="5.75" fill="#4e62d8"/>
<rect x="370.68" y="263.57" width="30.22" height="5.75" fill="#576adc"/>
<rect x="406.50" y="263.57" width="29.50" height="5.75" fill="#3c50d2"/>
<rect x="446.30" y="263.57" width="30.00" height="5.75" fill="#ccd3f6"/>
<rect x="476.30" y="263.57" width="30.40" height="5.75" fill="#b5c0f3"/>
<rect x="219.60" y="269.32" width="30.22" height="5.75" fill="#697ce1"/>
<rect x="249.82" y="269.32" width="30.22" height="5.75" fill="#93a3ed"/>
<rect x="280.03" y="269.32" width="30.22" height="5.75" fill="#475bd6"/>
<rect x="310.25" y="269.32" width="30.22" height="5.75" fill="#475bd6"/>
<rect x="340.47" y="269.32" width="30.22" height="5.75" fill="#4154d4"/>
<rect x="370.68" y="269.32" width="30.22" height="5.75" fill="#4e62d8"/>
<rect x="406.50" y="269.32" width="29.50" height="5.75" fill="#5366da"/>
<rect x="446.30" y="269.32" width="30.00" height="5.75" fill="#7b8ee5"/>
<rect x="476.30" y="269.32" width="30.40" height="5.75" fill="#899be9"/>
<rect x="219.60" y="275.06" width="30.22" height="5.75" fill="#2d3fcb"/>
<rect x="249.82" y="275.06" width="30.22" height="5.75" fill="#5e71de"/>
<rect x="280.03" y="275.06" width="30.22" height="5.75" fill="#3144cd"/>
<rect x="310.25" y="275.06" width="30.22" height="5.75" fill="#3c50d2"/>
<rect x="340.47" y="275.06" width="30.22" height="5.75" fill="#3144cd"/>
<rect x="370.68" y="275.06" width="30.22" height="5.75" fill="#475bd6"/>
<rect x="406.50" y="275.06" width="29.50" height="5.75" fill="#3144cd"/>
<rect x="446.30" y="275.06" width="30.00" height="5.75" fill="#2d3fcb"/>
<rect x="476.30" y="275.06" width="30.40" height="5.75" fill="#2d3fcb"/>
<rect x="219.60" y="280.81" width="30.22" height="5.75" fill="#5e71de"/>
<rect x="249.82" y="280.81" width="30.22" height="5.75" fill="#2638c8"/>
<rect x="280.03" y="280.81" width="30.22" height="5.75" fill="#7587e3"/>
<rect x="310.25" y="280.81" width="30.22" height="5.75" fill="#3c50d2"/>
<rect x="340.47" y="280.81" width="30.22" height="5.75" fill="#4357d4"/>
<rect x="370.68" y="280.81" width="30.22" height="5.75" fill="#3c50d2"/>
<rect x="406.50" y="280.81" width="29.50" height="5.75" fill="#3c50d2"/>
<rect x="446.30" y="280.81" width="30.00" height="5.75" fill="#6578e0"/>
<rect x="476.30" y="280.81" width="30.40" height="5.75" fill="#3144cd"/>
<rect x="219.60" y="286.55" width="30.22" height="5.75" fill="#c2caf4"/>
<rect x="249.82" y="286.55" width="30.22" height="5.75" fill="#2638c8"/>
<rect x="280.03" y="286.55" width="30.22" height="5.75" fill="#e8ebf9"/>
<rect x="310.25" y="286.55" width="30.22" height="5.75" fill="#3144cd"/>
<rect x="340.47" y="286.55" width="30.22" height="5.75" fill="#899be9"/>
<rect x="370.68" y="286.55" width="30.22" height="5.75" fill="#3144cd"/>
<rect x="406.50" y="286.55" width="29.50" height="5.75" fill="#4357d4"/>
<rect x="446.30" y="286.55" width="30.00" height="5.75" fill="#475bd6"/>
<rect x="476.30" y="286.55" width="30.40" height="5.75" fill="#dc9881"/>
<line x1="219.60" x2="400.90" y1="51.00" y2="51.00" stroke="rgba(0,0,0,0.55)" stroke-width="0.64"/>
<line x1="219.60" x2="400.90" y1="56.75" y2="56.75" stroke="rgba(0,0,0,0.55)" stroke-width="0.64"/>
<line x1="219.60" x2="400.90" y1="62.49" y2="62.49" stroke="rgba(0,0,0,0.55)" stroke-width="0.64"/>
<line x1="219.60" x2="400.90" y1="68.24" y2="68.24" stroke="rgba(0,0,0,0.55)" stroke-width="0.64"/>
<line x1="219.60" x2="400.90" y1="73.98" y2="73.98" stroke="rgba(0,0,0,0.55)" stroke-width="0.64"/>
<line x1="219.60" x2="400.90" y1="79.73" y2="79.73" stroke="rgba(0,0,0,0.55)" stroke-width="0.64"/>
<line x1="219.60" x2="400.90" y1="85.47" y2="85.47" stroke="rgba(0,0,0,0.55)" stroke-width="0.64"/>
<line x1="219.60" x2="400.90" y1="91.22" y2="91.22" stroke="rgba(0,0,0,0.55)" stroke-width="0.64"/>
<line x1="219.60" x2="400.90" y1="96.96" y2="96.96" stroke="rgba(0,0,0,0.55)" stroke-width="0.64"/>
<line x1="219.60" x2="400.90" y1="102.71" y2="102.71" stroke="rgba(0,0,0,0.55)" stroke-width="0.64"/>
<line x1="219.60" x2="400.90" y1="108.45" y2="108.45" stroke="rgba(0,0,0,0.55)" stroke-width="0.64"/>
<line x1="219.60" x2="400.90" y1="114.20" y2="114.20" stroke="rgba(0,0,0,0.55)" stroke-width="0.64"/>
<line x1="219.60" x2="400.90" y1="119.94" y2="119.94" stroke="rgba(0,0,0,0.55)" stroke-width="0.64"/>
<line x1="219.60" x2="400.90" y1="125.69" y2="125.69" stroke="rgba(0,0,0,0.55)" stroke-width="0.64"/>
<line x1="219.60" x2="400.90" y1="131.43" y2="131.43" stroke="rgba(0,0,0,0.55)" stroke-width="0.64"/>
<line x1="219.60" x2="400.90" y1="137.18" y2="137.18" stroke="rgba(0,0,0,0.55)" stroke-width="0.64"/>
<line x1="219.60" x2="400.90" y1="142.92" y2="142.92" stroke="rgba(0,0,0,0.55)" stroke-width="0.64"/>
<line x1="219.60" x2="400.90" y1="148.67" y2="148.67" stroke="rgba(0,0,0,0.55)" stroke-width="0.64"/>
<line x1="219.60" x2="400.90" y1="154.41" y2="154.41" stroke="rgba(0,0,0,0.55)" stroke-width="0.64"/>
<line x1="219.60" x2="400.90" y1="160.16" y2="160.16" stroke="rgba(0,0,0,0.55)" stroke-width="0.64"/>
<line x1="219.60" x2="400.90" y1="165.90" y2="165.90" stroke="rgba(0,0,0,0.55)" stroke-width="0.64"/>
<line x1="219.60" x2="400.90" y1="171.65" y2="171.65" stroke="rgba(0,0,0,0.55)" stroke-width="0.64"/>
<line x1="219.60" x2="400.90" y1="177.40" y2="177.40" stroke="rgba(0,0,0,0.55)" stroke-width="0.64"/>
<line x1="219.60" x2="400.90" y1="183.14" y2="183.14" stroke="rgba(0,0,0,0.55)" stroke-width="0.64"/>
<line x1="219.60" x2="400.90" y1="188.89" y2="188.89" stroke="rgba(0,0,0,0.55)" stroke-width="0.64"/>
<line x1="219.60" x2="400.90" y1="194.63" y2="194.63" stroke="rgba(0,0,0,0.55)" stroke-width="0.64"/>
<line x1="219.60" x2="400.90" y1="200.38" y2="200.38" stroke="rgba(0,0,0,0.55)" stroke-width="0.64"/>
<line x1="219.60" x2="400.90" y1="206.12" y2="206.12" stroke="rgba(0,0,0,0.55)" stroke-width="0.64"/>
<line x1="219.60" x2="400.90" y1="211.87" y2="211.87" stroke="rgba(0,0,0,0.55)" stroke-width="0.64"/>
<line x1="219.60" x2="400.90" y1="217.61" y2="217.61" stroke="rgba(0,0,0,0.55)" stroke-width="0.64"/>
<line x1="219.60" x2="400.90" y1="223.36" y2="223.36" stroke="rgba(0,0,0,0.55)" stroke-width="0.64"/>
<line x1="219.60" x2="400.90" y1="229.10" y2="229.10" stroke="rgba(0,0,0,0.55)" stroke-width="0.64"/>
<line x1="219.60" x2="400.90" y1="234.85" y2="234.85" stroke="rgba(0,0,0,0.55)" stroke-width="0.64"/>
<line x1="219.60" x2="400.90" y1="240.59" y2="240.59" stroke="rgba(0,0,0,0.55)" stroke-width="0.64"/>
<line x1="219.60" x2="400.90" y1="246.34" y2="246.34" stroke="rgba(0,0,0,0.55)" stroke-width="0.64"/>
<line x1="219.60" x2="400.90" y1="252.08" y2="252.08" stroke="rgba(0,0,0,0.55)" stroke-width="0.64"/>
<line x1="219.60" x2="400.90" y1="257.83" y2="257.83" stroke="rgba(0,0,0,0.55)" stroke-width="0.64"/>
<line x1="219.60" x2="400.90" y1="263.57" y2="263.57" stroke="rgba(0,0,0,0.55)" stroke-width="0.64"/>
<line x1="219.60" x2="400.90" y1="269.32" y2="269.32" stroke="rgba(0,0,0,0.55)" stroke-width="0.64"/>
<line x1="219.60" x2="400.90" y1="275.06" y2="275.06" stroke="rgba(0,0,0,0.55)" stroke-width="0.64"/>
<line x1="219.60" x2="400.90" y1="280.81" y2="280.81" stroke="rgba(0,0,0,0.55)" stroke-width="0.64"/>
<line x1="219.60" x2="400.90" y1="286.55" y2="286.55" stroke="rgba(0,0,0,0.55)" stroke-width="0.64"/>
<line x1="219.60" x2="400.90" y1="292.30" y2="292.30" stroke="rgba(0,0,0,0.55)" stroke-width="0.64"/>
<line x1="219.60" x2="219.60" y1="51.00" y2="292.30" stroke="rgba(0,0,0,0.55)" stroke-width="0.80"/>
<line x1="249.82" x2="249.82" y1="51.00" y2="292.30" stroke="rgba(0,0,0,0.55)" stroke-width="0.80"/>
<line x1="280.03" x2="280.03" y1="51.00" y2="292.30" stroke="rgba(0,0,0,0.55)" stroke-width="0.80"/>
<line x1="310.25" x2="310.25" y1="51.00" y2="292.30" stroke="rgba(0,0,0,0.55)" stroke-width="0.80"/>
<line x1="340.47" x2="340.47" y1="51.00" y2="292.30" stroke="rgba(0,0,0,0.55)" stroke-width="0.80"/>
<line x1="370.68" x2="370.68" y1="51.00" y2="292.30" stroke="rgba(0,0,0,0.55)" stroke-width="0.80"/>
<line x1="400.90" x2="400.90" y1="51.00" y2="292.30" stroke="rgba(0,0,0,0.55)" stroke-width="0.80"/>
<line x1="406.50" x2="436.00" y1="51.00" y2="51.00" stroke="rgba(0,0,0,0.55)" stroke-width="0.64"/>
<line x1="406.50" x2="436.00" y1="56.75" y2="56.75" stroke="rgba(0,0,0,0.55)" stroke-width="0.64"/>
<line x1="406.50" x2="436.00" y1="62.49" y2="62.49" stroke="rgba(0,0,0,0.55)" stroke-width="0.64"/>
<line x1="406.50" x2="436.00" y1="68.24" y2="68.24" stroke="rgba(0,0,0,0.55)" stroke-width="0.64"/>
<line x1="406.50" x2="436.00" y1="73.98" y2="73.98" stroke="rgba(0,0,0,0.55)" stroke-width="0.64"/>
<line x1="406.50" x2="436.00" y1="79.73" y2="79.73" stroke="rgba(0,0,0,0.55)" stroke-width="0.64"/>
<line x1="406.50" x2="436.00" y1="85.47" y2="85.47" stroke="rgba(0,0,0,0.55)" stroke-width="0.64"/>
<line x1="406.50" x2="436.00" y1="91.22" y2="91.22" stroke="rgba(0,0,0,0.55)" stroke-width="0.64"/>
<line x1="406.50" x2="436.00" y1="96.96" y2="96.96" stroke="rgba(0,0,0,0.55)" stroke-width="0.64"/>
<line x1="406.50" x2="436.00" y1="102.71" y2="102.71" stroke="rgba(0,0,0,0.55)" stroke-width="0.64"/>
<line x1="406.50" x2="436.00" y1="108.45" y2="108.45" stroke="rgba(0,0,0,0.55)" stroke-width="0.64"/>
<line x1="406.50" x2="436.00" y1="114.20" y2="114.20" stroke="rgba(0,0,0,0.55)" stroke-width="0.64"/>
<line x1="406.50" x2="436.00" y1="119.94" y2="119.94" stroke="rgba(0,0,0,0.55)" stroke-width="0.64"/>
<line x1="406.50" x2="436.00" y1="125.69" y2="125.69" stroke="rgba(0,0,0,0.55)" stroke-width="0.64"/>
<line x1="406.50" x2="436.00" y1="131.43" y2="131.43" stroke="rgba(0,0,0,0.55)" stroke-width="0.64"/>
<line x1="406.50" x2="436.00" y1="137.18" y2="137.18" stroke="rgba(0,0,0,0.55)" stroke-width="0.64"/>
<line x1="406.50" x2="436.00" y1="142.92" y2="142.92" stroke="rgba(0,0,0,0.55)" stroke-width="0.64"/>
<line x1="406.50" x2="436.00" y1="148.67" y2="148.67" stroke="rgba(0,0,0,0.55)" stroke-width="0.64"/>
<line x1="406.50" x2="436.00" y1="154.41" y2="154.41" stroke="rgba(0,0,0,0.55)" stroke-width="0.64"/>
<line x1="406.50" x2="436.00" y1="160.16" y2="160.16" stroke="rgba(0,0,0,0.55)" stroke-width="0.64"/>
<line x1="406.50" x2="436.00" y1="165.90" y2="165.90" stroke="rgba(0,0,0,0.55)" stroke-width="0.64"/>
<line x1="406.50" x2="436.00" y1="171.65" y2="171.65" stroke="rgba(0,0,0,0.55)" stroke-width="0.64"/>
<line x1="406.50" x2="436.00" y1="177.40" y2="177.40" stroke="rgba(0,0,0,0.55)" stroke-width="0.64"/>
<line x1="406.50" x2="436.00" y1="183.14" y2="183.14" stroke="rgba(0,0,0,0.55)" stroke-width="0.64"/>
<line x1="406.50" x2="436.00" y1="188.89" y2="188.89" stroke="rgba(0,0,0,0.55)" stroke-width="0.64"/>
<line x1="406.50" x2="436.00" y1="194.63" y2="194.63" stroke="rgba(0,0,0,0.55)" stroke-width="0.64"/>
<line x1="406.50" x2="436.00" y1="200.38" y2="200.38" stroke="rgba(0,0,0,0.55)" stroke-width="0.64"/>
<line x1="406.50" x2="436.00" y1="206.12" y2="206.12" stroke="rgba(0,0,0,0.55)" stroke-width="0.64"/>
<line x1="406.50" x2="436.00" y1="211.87" y2="211.87" stroke="rgba(0,0,0,0.55)" stroke-width="0.64"/>
<line x1="406.50" x2="436.00" y1="217.61" y2="217.61" stroke="rgba(0,0,0,0.55)" stroke-width="0.64"/>
<line x1="406.50" x2="436.00" y1="223.36" y2="223.36" stroke="rgba(0,0,0,0.55)" stroke-width="0.64"/>
<line x1="406.50" x2="436.00" y1="229.10" y2="229.10" stroke="rgba(0,0,0,0.55)" stroke-width="0.64"/>
<line x1="406.50" x2="436.00" y1="234.85" y2="234.85" stroke="rgba(0,0,0,0.55)" stroke-width="0.64"/>
<line x1="406.50" x2="436.00" y1="240.59" y2="240.59" stroke="rgba(0,0,0,0.55)" stroke-width="0.64"/>
<line x1="406.50" x2="436.00" y1="246.34" y2="246.34" stroke="rgba(0,0,0,0.55)" stroke-width="0.64"/>
<line x1="406.50" x2="436.00" y1="252.08" y2="252.08" stroke="rgba(0,0,0,0.55)" stroke-width="0.64"/>
<line x1="406.50" x2="436.00" y1="257.83" y2="257.83" stroke="rgba(0,0,0,0.55)" stroke-width="0.64"/>
<line x1="406.50" x2="436.00" y1="263.57" y2="263.57" stroke="rgba(0,0,0,0.55)" stroke-width="0.64"/>
<line x1="406.50" x2="436.00" y1="269.32" y2="269.32" stroke="rgba(0,0,0,0.55)" stroke-width="0.64"/>
<line x1="406.50" x2="436.00" y1="275.06" y2="275.06" stroke="rgba(0,0,0,0.55)" stroke-width="0.64"/>
<line x1="406.50" x2="436.00" y1="280.81" y2="280.81" stroke="rgba(0,0,0,0.55)" stroke-width="0.64"/>
<line x1="406.50" x2="436.00" y1="286.55" y2="286.55" stroke="rgba(0,0,0,0.55)" stroke-width="0.64"/>
<line x1="406.50" x2="436.00" y1="292.30" y2="292.30" stroke="rgba(0,0,0,0.55)" stroke-width="0.64"/>
<line x1="406.50" x2="406.50" y1="51.00" y2="292.30" stroke="rgba(0,0,0,0.55)" stroke-width="0.80"/>
<line x1="436.00" x2="436.00" y1="51.00" y2="292.30" stroke="rgba(0,0,0,0.55)" stroke-width="0.80"/>
<line x1="446.30" x2="506.70" y1="51.00" y2="51.00" stroke="rgba(0,0,0,0.55)" stroke-width="0.64"/>
<line x1="446.30" x2="506.70" y1="56.75" y2="56.75" stroke="rgba(0,0,0,0.55)" stroke-width="0.64"/>
<line x1="446.30" x2="506.70" y1="62.49" y2="62.49" stroke="rgba(0,0,0,0.55)" stroke-width="0.64"/>
<line x1="446.30" x2="506.70" y1="68.24" y2="68.24" stroke="rgba(0,0,0,0.55)" stroke-width="0.64"/>
<line x1="446.30" x2="506.70" y1="73.98" y2="73.98" stroke="rgba(0,0,0,0.55)" stroke-width="0.64"/>
<line x1="446.30" x2="506.70" y1="79.73" y2="79.73" stroke="rgba(0,0,0,0.55)" stroke-width="0.64"/>
<line x1="446.30" x2="506.70" y1="85.47" y2="85.47" stroke="rgba(0,0,0,0.55)" stroke-width="0.64"/>
<line x1="446.30" x2="506.70" y1="91.22" y2="91.22" stroke="rgba(0,0,0,0.55)" stroke-width="0.64"/>
<line x1="446.30" x2="506.70" y1="96.96" y2="96.96" stroke="rgba(0,0,0,0.55)" stroke-width="0.64"/>
<line x1="446.30" x2="506.70" y1="102.71" y2="102.71" stroke="rgba(0,0,0,0.55)" stroke-width="0.64"/>
<line x1="446.30" x2="506.70" y1="108.45" y2="108.45" stroke="rgba(0,0,0,0.55)" stroke-width="0.64"/>
<line x1="446.30" x2="506.70" y1="114.20" y2="114.20" stroke="rgba(0,0,0,0.55)" stroke-width="0.64"/>
<line x1="446.30" x2="506.70" y1="119.94" y2="119.94" stroke="rgba(0,0,0,0.55)" stroke-width="0.64"/>
<line x1="446.30" x2="506.70" y1="125.69" y2="125.69" stroke="rgba(0,0,0,0.55)" stroke-width="0.64"/>
<line x1="446.30" x2="506.70" y1="131.43" y2="131.43" stroke="rgba(0,0,0,0.55)" stroke-width="0.64"/>
<line x1="446.30" x2="506.70" y1="137.18" y2="137.18" stroke="rgba(0,0,0,0.55)" stroke-width="0.64"/>
<line x1="446.30" x2="506.70" y1="142.92" y2="142.92" stroke="rgba(0,0,0,0.55)" stroke-width="0.64"/>
<line x1="446.30" x2="506.70" y1="148.67" y2="148.67" stroke="rgba(0,0,0,0.55)" stroke-width="0.64"/>
<line x1="446.30" x2="506.70" y1="154.41" y2="154.41" stroke="rgba(0,0,0,0.55)" stroke-width="0.64"/>
<line x1="446.30" x2="506.70" y1="160.16" y2="160.16" stroke="rgba(0,0,0,0.55)" stroke-width="0.64"/>
<line x1="446.30" x2="506.70" y1="165.90" y2="165.90" stroke="rgba(0,0,0,0.55)" stroke-width="0.64"/>
<line x1="446.30" x2="506.70" y1="171.65" y2="171.65" stroke="rgba(0,0,0,0.55)" stroke-width="0.64"/>
<line x1="446.30" x2="506.70" y1="177.40" y2="177.40" stroke="rgba(0,0,0,0.55)" stroke-width="0.64"/>
<line x1="446.30" x2="506.70" y1="183.14" y2="183.14" stroke="rgba(0,0,0,0.55)" stroke-width="0.64"/>
<line x1="446.30" x2="506.70" y1="188.89" y2="188.89" stroke="rgba(0,0,0,0.55)" stroke-width="0.64"/>
<line x1="446.30" x2="506.70" y1="194.63" y2="194.63" stroke="rgba(0,0,0,0.55)" stroke-width="0.64"/>
<line x1="446.30" x2="506.70" y1="200.38" y2="200.38" stroke="rgba(0,0,0,0.55)" stroke-width="0.64"/>
<line x1="446.30" x2="506.70" y1="206.12" y2="206.12" stroke="rgba(0,0,0,0.55)" stroke-width="0.64"/>
<line x1="446.30" x2="506.70" y1="211.87" y2="211.87" stroke="rgba(0,0,0,0.55)" stroke-width="0.64"/>
<line x1="446.30" x2="506.70" y1="217.61" y2="217.61" stroke="rgba(0,0,0,0.55)" stroke-width="0.64"/>
<line x1="446.30" x2="506.70" y1="223.36" y2="223.36" stroke="rgba(0,0,0,0.55)" stroke-width="0.64"/>
<line x1="446.30" x2="506.70" y1="229.10" y2="229.10" stroke="rgba(0,0,0,0.55)" stroke-width="0.64"/>
<line x1="446.30" x2="506.70" y1="234.85" y2="234.85" stroke="rgba(0,0,0,0.55)" stroke-width="0.64"/>
<line x1="446.30" x2="506.70" y1="240.59" y2="240.59" stroke="rgba(0,0,0,0.55)" stroke-width="0.64"/>
<line x1="446.30" x2="506.70" y1="246.34" y2="246.34" stroke="rgba(0,0,0,0.55)" stroke-width="0.64"/>
<line x1="446.30" x2="506.70" y1="252.08" y2="252.08" stroke="rgba(0,0,0,0.55)" stroke-width="0.64"/>
<line x1="446.30" x2="506.70" y1="257.83" y2="257.83" stroke="rgba(0,0,0,0.55)" stroke-width="0.64"/>
<line x1="446.30" x2="506.70" y1="263.57" y2="263.57" stroke="rgba(0,0,0,0.55)" stroke-width="0.64"/>
<line x1="446.30" x2="506.70" y1="269.32" y2="269.32" stroke="rgba(0,0,0,0.55)" stroke-width="0.64"/>
<line x1="446.30" x2="506.70" y1="275.06" y2="275.06" stroke="rgba(0,0,0,0.55)" stroke-width="0.64"/>
<line x1="446.30" x2="506.70" y1="280.81" y2="280.81" stroke="rgba(0,0,0,0.55)" stroke-width="0.64"/>
<line x1="446.30" x2="506.70" y1="286.55" y2="286.55" stroke="rgba(0,0,0,0.55)" stroke-width="0.64"/>
<line x1="446.30" x2="506.70" y1="292.30" y2="292.30" stroke="rgba(0,0,0,0.55)" stroke-width="0.64"/>
<line x1="446.30" x2="446.30" y1="51.00" y2="292.30" stroke="rgba(0,0,0,0.55)" stroke-width="0.80"/>
<line x1="476.30" x2="476.30" y1="51.00" y2="292.30" stroke="rgba(0,0,0,0.55)" stroke-width="0.80"/>
<line x1="506.70" x2="506.70" y1="51.00" y2="292.30" stroke="rgba(0,0,0,0.55)" stroke-width="0.80"/>
<text x="217.0" y="55.87" font-size="4.9" fill="#2a2a2a" stroke="#2a2a2a" stroke-width="0.18" text-anchor="end">07H160</text>
<text x="217.0" y="61.62" font-size="4.9" fill="#2a2a2a" stroke="#2a2a2a" stroke-width="0.18" text-anchor="end">02H053</text>
<text x="217.0" y="67.36" font-size="4.9" fill="#2a2a2a" stroke="#2a2a2a" stroke-width="0.18" text-anchor="end">10H056</text>
<text x="217.0" y="73.11" font-size="4.9" fill="#2a2a2a" stroke="#2a2a2a" stroke-width="0.18" text-anchor="end">03H116</text>
<text x="217.0" y="78.85" font-size="4.9" fill="#2a2a2a" stroke="#2a2a2a" stroke-width="0.18" text-anchor="end">11H058</text>
<text x="217.0" y="84.60" font-size="4.9" fill="#2a2a2a" stroke="#2a2a2a" stroke-width="0.18" text-anchor="end">07H135</text>
<text x="217.0" y="90.34" font-size="4.9" fill="#2a2a2a" stroke="#2a2a2a" stroke-width="0.18" text-anchor="end">03H119</text>
<text x="217.0" y="96.09" font-size="4.9" fill="#2a2a2a" stroke="#2a2a2a" stroke-width="0.18" text-anchor="end">11H009</text>
<text x="217.0" y="101.83" font-size="4.9" fill="#2a2a2a" stroke="#2a2a2a" stroke-width="0.18" text-anchor="end">09H115</text>
<text x="217.0" y="107.58" font-size="4.9" fill="#2a2a2a" stroke="#2a2a2a" stroke-width="0.18" text-anchor="end">09H043</text>
<text x="217.0" y="113.33" font-size="4.9" fill="#2a2a2a" stroke="#2a2a2a" stroke-width="0.18" text-anchor="end">04H024</text>
<text x="217.0" y="119.07" font-size="4.9" fill="#2a2a2a" stroke="#2a2a2a" stroke-width="0.18" text-anchor="end">03H041</text>
<text x="217.0" y="124.82" font-size="4.9" fill="#2a2a2a" stroke="#2a2a2a" stroke-width="0.18" text-anchor="end">07H062</text>
<text x="217.0" y="130.56" font-size="4.9" fill="#2a2a2a" stroke="#2a2a2a" stroke-width="0.18" text-anchor="end">11H006</text>
<text x="217.0" y="136.31" font-size="4.9" fill="#2a2a2a" stroke="#2a2a2a" stroke-width="0.18" text-anchor="end">10H095</text>
<text x="217.0" y="142.05" font-size="4.9" fill="#2a2a2a" stroke="#2a2a2a" stroke-width="0.18" text-anchor="end">10H165</text>
<text x="217.0" y="147.80" font-size="4.9" fill="#2a2a2a" stroke="#2a2a2a" stroke-width="0.18" text-anchor="end">05H163</text>
<text x="217.0" y="153.54" font-size="4.9" fill="#2a2a2a" stroke="#2a2a2a" stroke-width="0.18" text-anchor="end">02H066</text>
<text x="217.0" y="159.29" font-size="4.9" fill="#2a2a2a" stroke="#2a2a2a" stroke-width="0.18" text-anchor="end">11H126</text>
<text x="217.0" y="165.03" font-size="4.9" fill="#2a2a2a" stroke="#2a2a2a" stroke-width="0.18" text-anchor="end">04H133</text>
<text x="217.0" y="170.78" font-size="4.9" fill="#2a2a2a" stroke="#2a2a2a" stroke-width="0.18" text-anchor="end">10H115</text>
<text x="217.0" y="176.52" font-size="4.9" fill="#2a2a2a" stroke="#2a2a2a" stroke-width="0.18" text-anchor="end">11H160</text>
<text x="217.0" y="182.27" font-size="4.9" fill="#2a2a2a" stroke="#2a2a2a" stroke-width="0.18" text-anchor="end">10H092</text>
<text x="217.0" y="188.01" font-size="4.9" fill="#2a2a2a" stroke="#2a2a2a" stroke-width="0.18" text-anchor="end">10H072</text>
<text x="217.0" y="193.76" font-size="4.9" fill="#2a2a2a" stroke="#2a2a2a" stroke-width="0.18" text-anchor="end">11H083</text>
<text x="217.0" y="199.50" font-size="4.9" fill="#2a2a2a" stroke="#2a2a2a" stroke-width="0.18" text-anchor="end">05H149</text>
<text x="217.0" y="205.25" font-size="4.9" fill="#2a2a2a" stroke="#2a2a2a" stroke-width="0.18" text-anchor="end">11H046</text>
<text x="217.0" y="210.99" font-size="4.9" fill="#2a2a2a" stroke="#2a2a2a" stroke-width="0.18" text-anchor="end">04H112</text>
<text x="217.0" y="216.74" font-size="4.9" fill="#2a2a2a" stroke="#2a2a2a" stroke-width="0.18" text-anchor="end">06H028</text>
<text x="217.0" y="222.48" font-size="4.9" fill="#2a2a2a" stroke="#2a2a2a" stroke-width="0.18" text-anchor="end">11H142</text>
<text x="217.0" y="228.23" font-size="4.9" fill="#2a2a2a" stroke="#2a2a2a" stroke-width="0.18" text-anchor="end">05H181</text>
<text x="217.0" y="233.97" font-size="4.9" fill="#2a2a2a" stroke="#2a2a2a" stroke-width="0.18" text-anchor="end">05H050</text>
<text x="217.0" y="239.72" font-size="4.9" fill="#2a2a2a" stroke="#2a2a2a" stroke-width="0.18" text-anchor="end">10H101</text>
<text x="217.0" y="245.47" font-size="4.9" fill="#2a2a2a" stroke="#2a2a2a" stroke-width="0.18" text-anchor="end">10H052</text>
<text x="217.0" y="251.21" font-size="4.9" fill="#2a2a2a" stroke="#2a2a2a" stroke-width="0.18" text-anchor="end">06H144</text>
<text x="217.0" y="256.96" font-size="4.9" fill="#2a2a2a" stroke="#2a2a2a" stroke-width="0.18" text-anchor="end">11H021</text>
<text x="217.0" y="262.70" font-size="4.9" fill="#2a2a2a" stroke="#2a2a2a" stroke-width="0.18" text-anchor="end">09H083</text>
<text x="217.0" y="268.45" font-size="4.9" fill="#2a2a2a" stroke="#2a2a2a" stroke-width="0.18" text-anchor="end">10H089</text>
<text x="217.0" y="274.19" font-size="4.9" fill="#2a2a2a" stroke="#2a2a2a" stroke-width="0.18" text-anchor="end">11H072</text>
<text x="217.0" y="279.94" font-size="4.9" fill="#2a2a2a" stroke="#2a2a2a" stroke-width="0.18" text-anchor="end">09H113</text>
<text x="217.0" y="285.68" font-size="4.9" fill="#2a2a2a" stroke="#2a2a2a" stroke-width="0.18" text-anchor="end">09H111</text>
<text x="217.0" y="291.43" font-size="4.9" fill="#2a2a2a" stroke="#2a2a2a" stroke-width="0.18" text-anchor="end">10H068</text>
<text x="0" y="0" font-size="9.5" font-weight="bold" fill="#111" text-anchor="middle" transform="translate(193.1 164.9) rotate(-90)">Human AML</text>
<path d="M424.40 297.00 V302.00 H461.50 V297.00" fill="none" stroke="#444" stroke-width="0.90"/>
<path d="M420.00 300.00 V305.40 H491.60 V300.00" fill="none" stroke="#444" stroke-width="0.90"/>
<path d="M388.60 309.00 V315.10 H464.60 V309.00" fill="none" stroke="#444" stroke-width="0.90"/>
<path d="M385.30 314.00 V320.00 H497.40 V314.00" fill="none" stroke="#444" stroke-width="0.90"/>
<text x="426.90" y="300.00" font-size="6.00" font-weight="bold" fill="#222" textLength="25.00" lengthAdjust="spacingAndGlyphs">p=1.2x10</text><text x="451.90" y="297.70" font-size="4.3" font-weight="bold" fill="#222">-6</text>
<text x="494.00" y="303.40" font-size="6.00" font-weight="bold" fill="#222">p=0.07</text>
<text x="391.60" y="313.10" font-size="6.00" font-weight="bold" fill="#222" textLength="24.60" lengthAdjust="spacingAndGlyphs">p=1.7x10</text><text x="415.90" y="310.80" font-size="4.3" font-weight="bold" fill="#222">-9</text>
<text x="500.60" y="318.00" font-size="6.00" font-weight="bold" fill="#222">p=0.14</text>
</svg></body></html>
